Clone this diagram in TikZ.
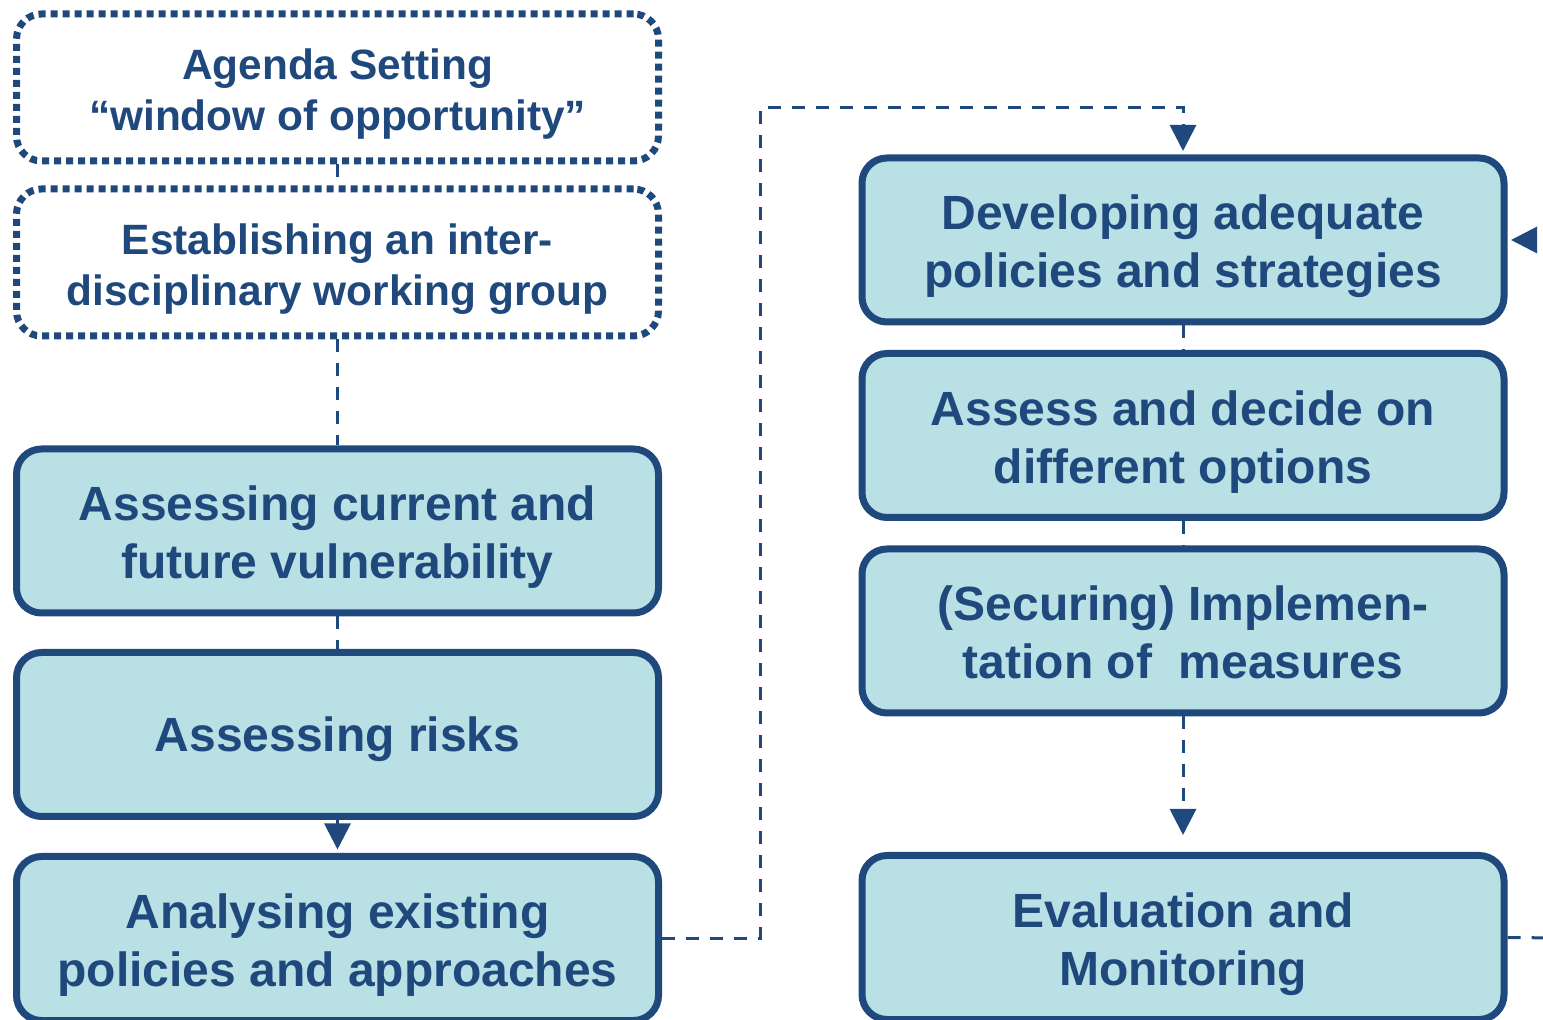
\documentclass[tikz,border=0pt]{standalone}
\usepackage{fontspec}
\setmainfont{Liberation Sans}
\usetikzlibrary{arrows.meta}
\definecolor{navy}{RGB}{31,73,125}
\definecolor{pale}{RGB}{185,224,228}

\begin{document}
\begin{tikzpicture}[
    x=0.5pt, y=-0.5pt,
    >={Triangle[width=13pt,length=13pt]},
    stage/.style = {rectangle, rounded corners=12.5pt, draw=navy, fill=pale,
                    line width=3.5pt, minimum width=321pt, minimum height=82pt,
                    inner sep=0pt, align=center, text=navy,
                    font=\fontsize{24}{29}\selectfont\bfseries,
                    text height=52.7pt, text depth=5.1pt},
    single/.style = {text height=21.7pt},
    prep/.style  = {rectangle, rounded corners=12.5pt, draw=navy, fill=white,
                    line width=3.5pt, dash pattern=on 3.5pt off 2.5pt,
                    minimum width=321pt, minimum height=73.5pt,
                    inner sep=0pt, align=center, text=navy,
                    font=\fontsize{21.2}{25.5}\selectfont\bfseries,
                    text height=47.7pt, text depth=4.5pt},
    link/.style  = {draw=navy, line width=1.5pt, dash pattern=on 6.5pt off 5.5pt},
  ]
  \useasboundingbox (0,0) rectangle (1543,1020);
  \clip (0,0) rectangle (1543,1020);
  % preparation steps (dotted)
  \node[prep] (agenda) at (337.5,87.5)  {Agenda Setting\\“window of opportunity”};
  \node[prep] (group)  at (337.5,262.5) {Establishing an inter-\\disciplinary working group};
  % assessment column
  \node[stage] (current)  at (337.5,531)   {Assessing current and\\future vulnerability};
  \node[stage,single] (risks) at (337.5,734.5) {Assessing risks};
  \node[stage] (existing) at (337.5,938.5) {Analysing existing\\policies and approaches};
  % policy column
  \node[stage] (develop)   at (1183,240)   {Developing adequate\\policies and strategies};
  \node[stage] (options)   at (1183,435.5) {Assess and decide on\\different options};
  \node[stage] (implement) at (1183,631)   {(Securing) Implemen-\\tation of~ measures};
  \node[stage] (evaluate)  at (1183,937.5) {Evaluation and\\Monitoring};
  \coordinate (bend)    at (760,108);
  \coordinate (feedin)  at (1560,240);
  \coordinate (feedout) at (1560,938);
  % links down the left column
  \draw[link] (agenda) -- (group);
  \draw[link] (group) -- (current);
  \draw[link] (current) -- (risks);
  \draw[link,->,shorten >=1.75pt] (risks) -- (existing);
  % across to the right column
  \draw[link,->,shorten >=1.75pt] (existing.east) -| (bend) -| (develop.north);
  \draw[link] (develop) -- (options);
  \draw[link] (options) -- (implement);
  \draw[link,->,shorten >=8.5pt] (implement) -- (evaluate);
  % feedback loop, cut at the edge
  \draw[link] (evaluate.east) -- (feedout);
  \draw[link,->,shorten >=1.75pt] (feedin) -- (develop.east);
\end{tikzpicture}
\end{document}
